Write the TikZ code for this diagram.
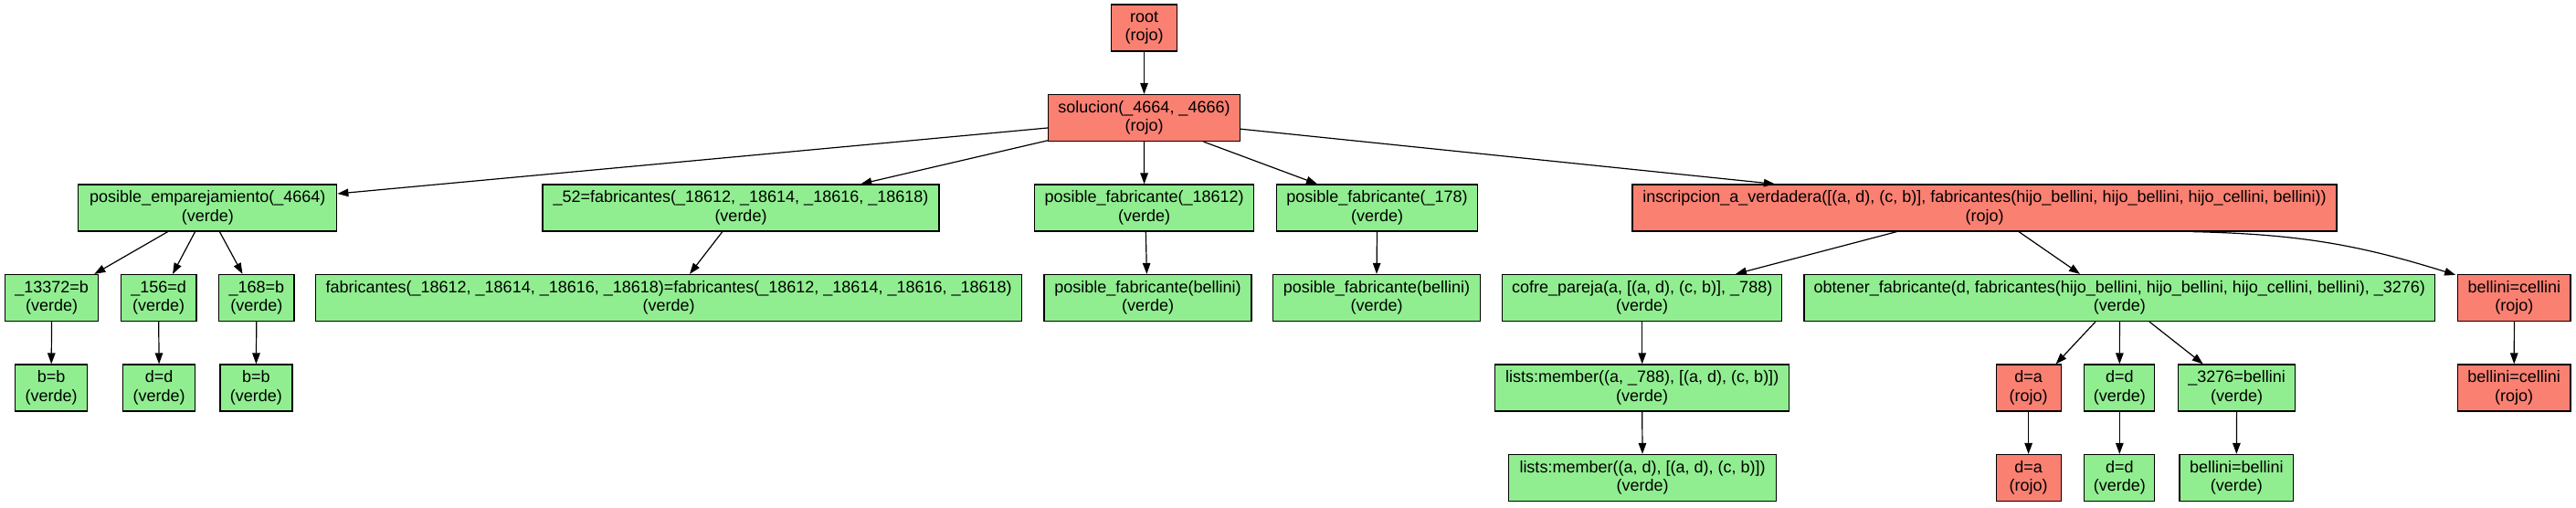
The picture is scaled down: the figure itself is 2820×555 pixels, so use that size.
\documentclass[tikz,border=0pt]{standalone}
\usepackage{fontspec}
\setmainfont{Liberation Sans}
\usetikzlibrary{arrows.meta,calc}
\definecolor{rojo}{HTML}{FA8072}
\definecolor{verde}{HTML}{90EE90}
\begin{document}
\begin{tikzpicture}[x=1pt,y=1pt,
  box/.style={draw=black, line width=1.2pt, minimum height=51pt, inner xsep=2pt, inner ysep=0pt, align=center, font=\fontsize{18}{20.5}\selectfont},
  rbox/.style={box, fill=rojo},
  gbox/.style={box, fill=verde},
  edge/.style={draw=black, line width=1.2pt, -{Triangle[length=12pt,width=8.5pt]}}
]
\useasboundingbox (0,0) rectangle (2820,555);
% row 0 / 1
\node[rbox, minimum width=72pt] (root) at (1252.5,524.5) {root\\(rojo)};
\node[rbox, minimum width=210pt] (sol) at (1252.5,426) {solucion(\_4664, \_4666)\\(rojo)};
% row 2
\node[gbox, minimum width=283pt] (pe) at (227.3,327.5) {posible\_emparejamiento(\_4664)\\(verde)};
\node[gbox, minimum width=434pt] (f52) at (811,327.5) {\_52=fabricantes(\_18612, \_18614, \_18616, \_18618)\\(verde)};
\node[gbox, minimum width=240pt] (pf1) at (1252.6,327.5) {posible\_fabricante(\_18612)\\(verde)};
\node[gbox, minimum width=220.5pt] (pf2) at (1507.5,327.5) {posible\_fabricante(\_178)\\(verde)};
\node[rbox, minimum width=771pt] (ins) at (2172.5,327.5) {inscripcion\_a\_verdadera([(a, d), (c, b)], fabricantes(hijo\_bellini, hijo\_bellini, hijo\_cellini, bellini))\\(rojo)};
% row 3
\node[gbox, minimum width=102.5pt] (r3a) at (56.6,229) {\_13372=b\\(verde)};
\node[gbox, minimum width=82.6pt] (r3b) at (173.7,229) {\_156=d\\(verde)};
\node[gbox, minimum width=82.5pt] (r3c) at (280.8,229) {\_168=b\\(verde)};
\node[gbox, minimum width=773pt] (fab) at (732.2,229) {fabricantes(\_18612, \_18614, \_18616, \_18618)=fabricantes(\_18612, \_18614, \_18616, \_18618)\\(verde)};
\node[gbox, minimum width=227pt] (pfb1) at (1256.5,229) {posible\_fabricante(bellini)\\(verde)};
\node[gbox, minimum width=227pt] (pfb2) at (1507,229) {posible\_fabricante(bellini)\\(verde)};
\node[gbox, minimum width=306pt] (cof) at (1797.7,229) {cofre\_pareja(a, [(a, d), (c, b)], \_788)\\(verde)};
\node[gbox, minimum width=690.7pt] (obt) at (2320.4,229) {obtener\_fabricante(d, fabricantes(hijo\_bellini, hijo\_bellini, hijo\_cellini, bellini), \_3276)\\(verde)};
\node[rbox, minimum width=123.3pt] (bc1) at (2752.4,229) {bellini=cellini\\(rojo)};
% row 4
\node[gbox, minimum width=79pt] (bb1) at (56.2,130.5) {b=b\\(verde)};
\node[gbox, minimum width=79pt] (dd1) at (174.1,130.5) {d=d\\(verde)};
\node[gbox, minimum width=79pt] (bb2) at (280.4,130.5) {b=b\\(verde)};
\node[gbox, minimum width=322pt] (lm1) at (1797.7,130.5) {lists:member((a, \_788), [(a, d), (c, b)])\\(verde)};
\node[rbox, minimum width=71pt] (da1) at (2220.6,130.5) {d=a\\(rojo)};
\node[gbox, minimum width=77pt] (dd2) at (2320.3,130.5) {d=d\\(verde)};
\node[gbox, minimum width=128.4pt] (b3276) at (2448.6,130.5) {\_3276=bellini\\(verde)};
\node[rbox, minimum width=123.7pt] (bc2) at (2752.2,130.5) {bellini=cellini\\(rojo)};
% row 5
\node[gbox, minimum width=293pt] (lm2) at (1798,32) {lists:member((a, d), [(a, d), (c, b)])\\(verde)};
\node[rbox, minimum width=71pt] (da2) at (2220.6,32) {d=a\\(rojo)};
\node[gbox, minimum width=77pt] (dd3) at (2320.3,32) {d=d\\(verde)};
\node[gbox, minimum width=124.5pt] (bbel) at (2448.3,32) {bellini=bellini\\(verde)};
% edges
\draw[edge] (root.south) -- (sol.north);
\draw[edge] ([yshift=-11pt]sol.west) -- ([yshift=15.5pt]pe.east);
\draw[edge] ([yshift=1.3pt]sol.south west) -- ([xshift=-86.3pt]f52.north east);
\draw[edge] (sol.south) -- (pf1.north);
\draw[edge] ([xshift=65pt]sol.south) -- ([xshift=-65.5pt]pf2.north);
\draw[edge] ([yshift=-12.2pt]sol.east) -- ([xshift=-229.6pt]ins.north);
\draw[edge] ([xshift=-43.6pt]pe.south) -- ([xshift=46.7pt]r3a.north);
\draw[edge] ([xshift=-13.7pt]pe.south) -- ([xshift=15.3pt]r3b.north);
\draw[edge] ([xshift=13.1pt]pe.south) -- ([xshift=-15.3pt]r3c.north);
\draw[edge] (r3a.south) -- (bb1.north);
\draw[edge] (r3b.south) -- (dd1.north);
\draw[edge] (r3c.south) -- (bb2.north);
\draw[edge] ([xshift=-20.2pt]f52.south) -- ([xshift=22.8pt]fab.north);
\draw[edge] ([xshift=1.7pt]pf1.south) -- ([xshift=-1.1pt]pfb1.north);
\draw[edge] (pf2.south) -- (pfb2.north);
\draw[edge] ([xshift=-96.1pt]ins.south) -- ([xshift=102.3pt]cof.north);
\draw[edge] ([xshift=37.5pt]ins.south) -- ([xshift=-43.4pt]obt.north);
\draw[edge] ([xshift=227.5pt]ins.south) to[bend left=8] ([xshift=-2pt,yshift=-1pt]bc1.north west);
\draw[edge] (cof.south) -- (lm1.north);
\draw[edge] (lm1.south) -- (lm2.north);
\draw[edge] ([xshift=-26.4pt]obt.south) -- ([xshift=30pt]da1.north);
\draw[edge] (obt.south) -- (dd2.north);
\draw[edge] ([xshift=32.5pt]obt.south) -- ([xshift=-36.9pt]b3276.north);
\draw[edge] (bc1.south) -- (bc2.north);
\draw[edge] (da1.south) -- (da2.north);
\draw[edge] (dd2.south) -- (dd3.north);
\draw[edge] (b3276.south) -- (bbel.north);
\end{tikzpicture}
\end{document}
